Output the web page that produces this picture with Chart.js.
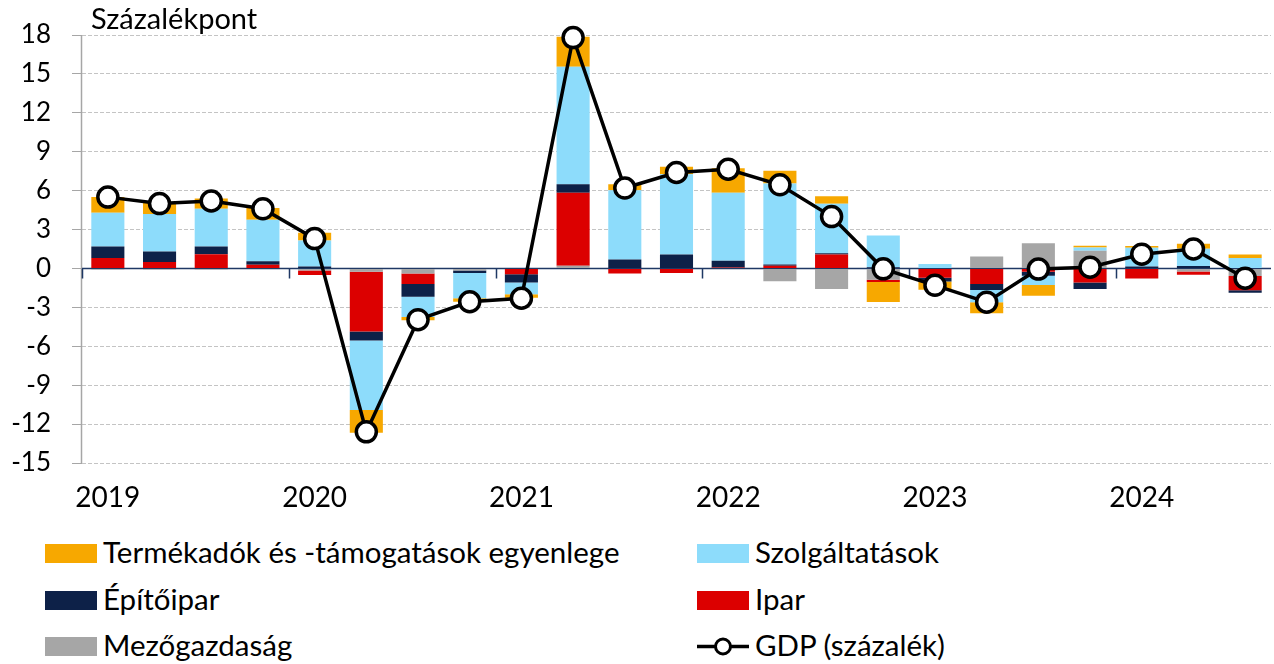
<!DOCTYPE html>
<html><head><meta charset="utf-8">
<script src="https://cdn.jsdelivr.net/npm/chart.js@4.4.1/dist/chart.umd.min.js"></script>
<style>
html,body{margin:0;padding:0;background:#fff;}
body{width:1274px;height:664px;position:relative;overflow:hidden;font-family:Lato,sans-serif;color:#000;}
#wrap{position:absolute;left:0;top:0;width:1274px;height:520px;}
#title{position:absolute;left:91px;top:1px;font-size:29px;line-height:34px;white-space:nowrap;}
.item{position:absolute;height:30px;white-space:nowrap;font-size:29.5px;line-height:30px;}
.item .sw{position:absolute;left:0;top:6px;width:52px;height:19px;}
.item .tx{position:absolute;left:58px;top:-1px;}
.item svg{position:absolute;left:0;top:0;}
</style></head>
<body>
<div id="wrap"><canvas id="c" width="1274" height="520"></canvas></div>
<div id="title">Százalékpont</div>
<div id="legend"></div>
<script>
// Quarters 2019 Q1 - 2024 Q3
const categories = ["2019 Q1","2019 Q2","2019 Q3","2019 Q4","2020 Q1","2020 Q2","2020 Q3","2020 Q4","2021 Q1","2021 Q2","2021 Q3","2021 Q4","2022 Q1","2022 Q2","2022 Q3","2022 Q4","2023 Q1","2023 Q2","2023 Q3","2023 Q4","2024 Q1","2024 Q2","2024 Q3"];
// Contributions, percentage points
const agriculture  = [-0.08,-0.08,-0.08,0,-0.15,-0.26,-0.39,-0.15,0,0.2,0,0,0,-0.98,-1.59,-0.87,0,0.93,1.95,1.36,0,-0.23,-0.59];
const industry     = [0.8,0.5,1.1,0.28,-0.35,-4.6,-0.8,0,-0.44,5.63,-0.39,-0.35,0.08,0.2,1.08,-0.18,-0.72,-1.2,-0.26,-1.08,-0.77,-0.26,-1.1];
const construction = [0.9,0.8,0.6,0.28,0.15,-0.7,-1.0,-0.2,-0.64,0.67,0.69,1.08,0.51,0.1,0.1,0.1,-0.28,-0.46,-0.3,-0.51,0.15,0.18,-0.18];
const services     = [2.6,2.9,2.9,3.2,2.0,-5.35,-1.55,-1.95,-0.9,9.05,5.34,6.19,5.24,6.25,3.8,2.45,0.34,-0.95,-0.72,0.26,1.44,1.34,0.8];
const taxes        = [1.2,0.85,0.8,0.9,0.6,-1.75,-0.26,-0.27,-0.28,2.31,0.46,0.57,1.9,0.98,0.59,-1.54,-0.65,-0.85,-0.82,0.13,0.15,0.39,0.28];
const gdp          = [5.5,5.0,5.2,4.6,2.3,-12.6,-3.95,-2.57,-2.3,17.8,6.2,7.4,7.65,6.45,4.0,-0.03,-1.3,-2.6,-0.05,0.1,1.1,1.5,-0.75];
const yTicks = [-15,-12,-9,-6,-3,0,3,6,9,12,15,18];

const FONT = 'Lato';
const C_AGRI='#a6a6a6', C_IND='#dc0000', C_CON='#0d2148', C_SERV='#8ddcfb', C_TAX='#f7a800';

const axisDecor = {
  id:'axisDecor',
  beforeDatasetsDraw(chart){
    const {ctx, chartArea:a, scales:{x,y}} = chart;
    const y0 = Math.round(y.getPixelForValue(0)) + 0.5;
    ctx.save();
    // left value axis line (solid)
    ctx.strokeStyle = '#a6a6a6';
    ctx.lineWidth = 1.5;
    ctx.beginPath();
    ctx.moveTo(a.left - 0.5, a.top); ctx.lineTo(a.left - 0.5, a.bottom);
    ctx.stroke();
    // zero (category) axis with year boundary ticks
    ctx.strokeStyle = '#1f3864';
    ctx.lineWidth = 1.5;
    ctx.beginPath();
    ctx.moveTo(a.left, y0); ctx.lineTo(a.right, y0);
    for (let i = 0; i < categories.length; i += 4) {
      const xp = i === 0 ? a.left : (x.getPixelForValue(i-1) + x.getPixelForValue(i)) / 2;
      ctx.moveTo(Math.round(xp)+0.5, y0); ctx.lineTo(Math.round(xp)+0.5, y0 + 10);
    }
    ctx.stroke();
    ctx.restore();
  }
};

const chart = new Chart(document.getElementById('c'), {
  type:'bar',
  data:{
    labels:categories,
    datasets:[
      {type:'line', label:'GDP (százalék)', data:gdp, stack:'gdp', order:0, clip:false,
       borderColor:'#000', borderWidth:3.5, tension:0,
       pointRadius:10, pointBorderWidth:3.5, pointBackgroundColor:'#fff', pointBorderColor:'#000'},
      {label:'Mezőgazdaság', data:agriculture, backgroundColor:C_AGRI, stack:'s', order:1},
      {label:'Ipar', data:industry, backgroundColor:C_IND, stack:'s', order:1},
      {label:'Építőipar', data:construction, backgroundColor:C_CON, stack:'s', order:1},
      {label:'Szolgáltatások', data:services, backgroundColor:C_SERV, stack:'s', order:1},
      {label:'Termékadók és -támogatások egyenlege', data:taxes, backgroundColor:C_TAX, stack:'s', order:1}
    ]
  },
  options:{
    responsive:false, animation:false,
    layout:{autoPadding:false, padding:{top:35,right:3,left:0,bottom:0}},
    plugins:{legend:{display:false}, tooltip:{enabled:false}},
    datasets:{bar:{categoryPercentage:0.64, barPercentage:1}},
    scales:{
      x:{stacked:true,
         grid:{display:false, drawTicks:false},
         border:{display:false},
         ticks:{autoSkip:false, maxRotation:0, minRotation:0, padding:18, color:'#000',
                font:{family:FONT, size:28},
                callback:(v,i)=> i%4===0 ? categories[i].slice(0,4) : ''},
         afterFit(s){ s.height = 57; s.paddingLeft = 0; s.paddingRight = 0; }},
      y:{stacked:true, min:-15, max:18,
         afterBuildTicks(s){ s.ticks = yTicks.map(v=>({value:v})); },
         ticks:{padding:21, color:'#000', font:{family:FONT, size:26}},
         grid:{color:c=> c.tick && c.tick.value===0 ? 'rgba(0,0,0,0)' : '#c4c4c4',
               lineWidth:1, tickLength:10, tickColor:'#a6a6a6', tickWidth:1},
         border:{display:false, dash:[4,2]},
         afterFit(s){ s.width = 82; s.paddingTop = 0; s.paddingBottom = 0; }}
    }
  },
  plugins:[axisDecor]
});

// HTML legend (two columns, Excel-like order)
const legendItems = [
  {label:chart.data.datasets[5].label, color:C_TAX, col:0, row:0},
  {label:chart.data.datasets[4].label, color:C_SERV, col:1, row:0},
  {label:chart.data.datasets[3].label, color:C_CON, col:0, row:1},
  {label:chart.data.datasets[2].label, color:C_IND, col:1, row:1},
  {label:chart.data.datasets[1].label, color:C_AGRI, col:0, row:2},
  {label:chart.data.datasets[0].label, line:true, col:1, row:2}
];
const colX = [45, 697], rowY = [538, 585, 631];
const lg = document.getElementById('legend');
legendItems.forEach(it=>{
  const d = document.createElement('div');
  d.className='item';
  d.style.left = colX[it.col]+'px';
  d.style.top = rowY[it.row]+'px';
  let sym;
  if (it.line) {
    sym = '<svg width="54" height="30"><line x1="0" y1="15.5" x2="52" y2="15.5" stroke="#000" stroke-width="3.5"/><circle cx="26" cy="15.5" r="7.5" fill="#fff" stroke="#000" stroke-width="3"/></svg>';
  } else {
    sym = '<div class="sw" style="background:'+it.color+'"></div>';
  }
  d.innerHTML = sym + '<span class="tx">'+it.label+'</span>';
  lg.appendChild(d);
});
</script>
</body></html>
